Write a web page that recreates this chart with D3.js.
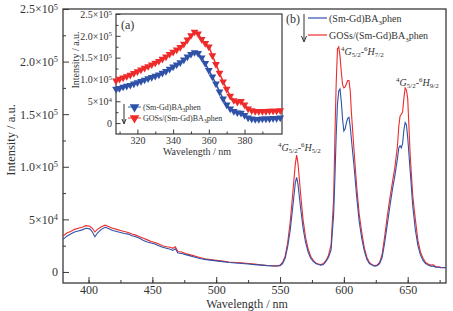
<!DOCTYPE html>
<html><head><meta charset="utf-8">
<script src="https://cdn.jsdelivr.net/npm/d3@7/dist/d3.min.js"></script>
<style>
body{margin:0;background:#fff;}
svg{display:block;font-family:"Liberation Serif","Times New Roman",serif;}
</style></head>
<body><svg id="c" width="453" height="311"></svg>
<script>
// ---------- DATA ----------
const wavelength = [
 380,383,386,389,392,395,398,401,403,405,
 407,410,413,416,419,422,425,428,431,434,
 437,440,443,446,449,452,455,458,461,464,
 466,468,470,473,476,479,482,485,488,491,
 494,497,500,505,510,515,520,525,530,535,
 540,545,548,550,552,554,556,558,560,562,
 563,564,566,568,570,572,574,576,578,580,
 582,584,586,588,590,592,593,594,595,596,
 597,598,599,600,601,602,603,604,605,606,
 608,610,612,614,616,618,620,622,624,626,
 628,630,632,634,636,638,640,642,643,644,
 645,646,647,648,649,650,652,654,656,658,
 660,662,664,666,668,670,672,674,676,678,
 680];
// (Sm-Gd)BA3phen, intensity in units of 1e3
const blueEmission = [
 31,34,36,38,39,40,41.5,41,38,33.5,
 37,40.5,42.5,41,39.5,38.5,37.5,36.5,36,34.5,
 33.5,32,30,28.5,27.5,26.5,25,23.5,22.5,21.5,
 20.5,22,18,17.5,16.5,15.5,14.5,13.5,12.5,12,
 11.5,11,10.5,9.8,9,8.5,8,7.5,7,6.5,
 6,5.7,5.6,6,8,13,24,40,62,85,
 90,84,62,42,28,19,13,10,8,7,
 6.5,7,10,14,21,55,90,130,160,172,
 174,162,145,134,136,142,146,147,138,125,
 100,72,48,32,20,12,8,6.5,5.5,6,
 8,14,28,45,62,78,92,108,118,120,
 118,122,135,142,140,128,95,62,40,25,
 16,11,8,6.5,5.5,5.5,4.5,4.5,4,4,
 4];
// GOSs/(Sm-Gd)BA3phen
const redEmission = [
 34,37,38.5,40.5,41.5,42.5,44,43.5,41.5,38,
 40.5,43,44.5,43,41.5,40.5,39.5,38.5,37.5,36,
 35,33.5,32,30.5,29,28,26.5,25,24,23.5,
 22.5,24,19.5,19,17.5,16.5,15.5,14.5,13.5,12.5,
 12,11.5,11,10.3,9.5,9,8.6,8,7.4,6.8,
 6.2,5.8,5.8,6.5,9,15,28,48,75,103,
 111,104,76,50,33,22,15,11,8.5,7.5,
 7,8,11,16,26,70,130,180,212,214,
 205,190,178,175,176,179,182,182,172,150,
 115,82,55,38,23,14,9,7,6,6.5,
 9,17,34,53,70,85,100,120,138,148,
 150,152,165,175,173,165,110,72,50,30,
 19,13,9,7.5,6.5,6.8,5,4.8,4.5,4.3,
 4.2];

const insetWavelength = [308,310,312,314,316,318,320,322,324,326,328,330,332,334,336,338,340,342,344,346,348,350,352,354,356,358,360,362,364,366,368,370,372,374,376,378,380,382,384,386,388,390,392,394,396,398,400];
const blueExcitation = [78,80,83,85,87,90,93,96,99,102,105,108,111,115,119,124,129,134,139,145,152,158,162,160,150,137,121,106,90,72,56,42,33,27,24,23,18,12,10,9,9,10,10,10,11,11,12];
const redExcitation = [97,101,104,107,110,114,118,122,126,130,134,138,142,147,152,158,163,168,174,181,191,201,209,205,192,183,175,155,135,115,95,78,62,52,48,50,42,33,29,27,27,27,27,28,28,28,29];

const mainYTicks = [0,50000,100000,150000,200000,250000];
const mainYLabels = [["0",""],["5×10","4"],["1.0×10","5"],["1.5×10","5"],["2.0×10","5"],["2.5×10","5"]];
const mainXTicks = [400,450,500,550,600,650];
const insetXTicks = [320,340,360,380];
const insetYTicks = [0,50000,100000,150000,200000,250000];

const seriesNames = ["(Sm-Gd)BA","GOSs/(Sm-Gd)BA"];
const blueColor = "#2f52a8", redColor = "#ee2b2b";
const axisColor = "#3a3a3a";

// ---------- MAIN ----------
const svg = d3.select("#c");
const M = {l:63, r:446, t:9, b:283};
const x = d3.scaleLinear().domain([380,680]).range([M.l,M.r]);
const y = d3.scaleLinear().domain([-10500,250000]).range([M.b,M.t]);

function supLabel(sel, parts, size){
  sel.text(null);
  sel.append("tspan").text(parts[0]);
  if(parts[1]) sel.append("tspan").attr("dy","-0.45em").attr("font-size",size*0.7).text(parts[1]);
}

const gx = svg.append("g").attr("transform",`translate(0,${M.b})`)
  .call(d3.axisBottom(x).tickValues(d3.range(400,680,25)).tickSize(-3).tickFormat(""));
const gx2 = svg.append("g").attr("transform",`translate(0,${M.b})`)
  .call(d3.axisBottom(x).tickValues(mainXTicks).tickSize(-6).tickPadding(2).tickFormat(d3.format("d")));
const gy = svg.append("g").attr("transform",`translate(${M.l},0)`)
  .call(d3.axisLeft(y).tickValues(d3.range(25000,250000,50000)).tickSize(-3).tickFormat(""));
const gy2 = svg.append("g").attr("transform",`translate(${M.l},0)`)
  .call(d3.axisLeft(y).tickValues(mainYTicks).tickSize(-6).tickPadding(5));
gy2.selectAll(".tick text").each(function(d,i){ supLabel(d3.select(this), mainYLabels[i], 12); });
[gx,gx2,gy,gy2].forEach(g=>{
  g.select(".domain").remove();
  g.selectAll("line").attr("stroke",axisColor).attr("stroke-width",1);
  g.selectAll("text").attr("font-family","Liberation Serif").attr("font-size",12).attr("fill","#333");
});
svg.append("rect").attr("x",M.l).attr("y",M.t).attr("width",M.r-M.l).attr("height",M.b-M.t)
  .attr("fill","none").attr("stroke",axisColor).attr("stroke-width",1.3);

const line = d3.line().x((d,i)=>x(wavelength[i])).y(d=>y(d*1000));
svg.append("path").datum(redEmission).attr("d",line).attr("fill","none").attr("stroke",redColor).attr("stroke-width",1.1);
svg.append("path").datum(blueEmission).attr("d",line).attr("fill","none").attr("stroke",blueColor).attr("stroke-width",1.1);

svg.append("text").attr("transform",`translate(15,140) rotate(-90)`).attr("text-anchor","middle")
  .attr("font-size",12.5).attr("fill","#333").text("Intensity / a.u.");
svg.append("text").attr("x",247).attr("y",308).attr("text-anchor","middle")
  .attr("font-size",12).attr("fill","#333").text("Wavelength / nm");

// annotations
function trans(xp, yp, lower){
  const t = svg.append("text").attr("x",xp).attr("y",yp).attr("font-size",10).attr("fill","#333");
  t.append("tspan").attr("font-size",7).attr("dy","-4").text("4");
  t.append("tspan").attr("font-style","italic").attr("dy","4").text("G");
  t.append("tspan").attr("font-size",7).attr("dy","2").text("5/2");
  t.append("tspan").attr("dy","-2").text("-");
  t.append("tspan").attr("font-size",7).attr("dy","-4").text("6");
  t.append("tspan").attr("font-style","italic").attr("dy","4").text("H");
  t.append("tspan").attr("font-size",7).attr("dy","2").text(lower);
}
trans(278,151,"5/2");
trans(341,55,"7/2");
trans(396,86,"9/2");

// legend (b)
svg.append("text").attr("x",286).attr("y",23).attr("font-size",12).attr("fill","#333").text("(b)");
svg.append("line").attr("x1",304).attr("y1",14).attr("x2",304).attr("y2",41).attr("stroke","#333").attr("stroke-width",1);
svg.append("path").attr("d","M301.5,36 L304,42 L306.5,36").attr("fill","none").attr("stroke","#333").attr("stroke-width",1);
[[blueColor,18],[redColor,35]].forEach((c,i)=>{
  svg.append("line").attr("x1",308).attr("x2",327).attr("y1",c[1]).attr("y2",c[1]).attr("stroke",c[0]).attr("stroke-width",1.2);
  const t = svg.append("text").attr("x",329).attr("y",c[1]+4).attr("font-size",10).attr("fill","#333");
  t.append("tspan").text(seriesNames[i]);
  t.append("tspan").attr("font-size",7).attr("dy",2.5).text("3");
  t.append("tspan").attr("dy",-2.5).text("phen");
});

// ---------- INSET ----------
const I = {l:116, r:282, t:14, b:134};
const xi = d3.scaleLinear().domain([308,401]).range([I.l,I.r]);
const yi = d3.scaleLinear().domain([-25000,250000]).range([I.b,I.t]);
svg.append("rect").attr("x",I.l).attr("y",I.t).attr("width",I.r-I.l).attr("height",I.b-I.t)
  .attr("fill","#fff").attr("stroke",axisColor).attr("stroke-width",1.2);
const ix1 = svg.append("g").attr("transform",`translate(0,${I.b})`)
  .call(d3.axisBottom(xi).tickValues([310,330,350,370,390]).tickSize(-2.5).tickFormat(""));
const ix2 = svg.append("g").attr("transform",`translate(0,${I.b})`)
  .call(d3.axisBottom(xi).tickValues(insetXTicks).tickSize(-4.5).tickPadding(3).tickFormat(d3.format("d")));
const iy1 = svg.append("g").attr("transform",`translate(${I.l},0)`)
  .call(d3.axisLeft(yi).tickValues(d3.range(25000,250000,50000)).tickSize(-2.5).tickFormat(""));
const iy2 = svg.append("g").attr("transform",`translate(${I.l},0)`)
  .call(d3.axisLeft(yi).tickValues(insetYTicks).tickSize(-4.5).tickPadding(4));
iy2.selectAll(".tick text").each(function(d,i){ supLabel(d3.select(this), mainYLabels[i], 10); });
[ix1,ix2,iy1,iy2].forEach(g=>{
  g.select(".domain").remove();
  g.selectAll("line").attr("stroke",axisColor).attr("stroke-width",1);
  g.selectAll("text").attr("font-family","Liberation Serif").attr("font-size",10).attr("fill","#333");
});
const tri = d3.symbol().type(d3.symbolTriangle).size(26);
const iline = d3.line().x((d,i)=>xi(insetWavelength[i])).y(d=>yi(d*1000));
[[redExcitation,redColor],[blueExcitation,blueColor]].forEach(s=>{
  svg.append("path").datum(s[0]).attr("d",iline).attr("fill","none").attr("stroke",s[1]).attr("stroke-width",1.5);
  svg.append("g").selectAll("path").data(s[0]).join("path")
    .attr("d",tri).attr("fill",s[1])
    .attr("transform",(d,i)=>`translate(${xi(insetWavelength[i])},${yi(d*1000)}) rotate(180)`);
});
svg.append("text").attr("transform",`translate(79,60) rotate(-90)`).attr("text-anchor","middle")
  .attr("font-size",10).attr("fill","#333").text("Intensity / a.u.");
svg.append("text").attr("x",197).attr("y",155).attr("text-anchor","middle")
  .attr("font-size",10).attr("fill","#333").text("Wavelength / nm");
svg.append("text").attr("x",121).attr("y",29).attr("font-size",12).attr("fill","#333").text("(a)");
// inset legend
svg.append("line").attr("x1",124).attr("y1",104).attr("x2",124).attr("y2",123).attr("stroke","#333").attr("stroke-width",1);
svg.append("path").attr("d","M122,119 L124,124 L126,119").attr("fill","none").attr("stroke","#333").attr("stroke-width",1);
[[blueColor,"#8fb8e8",107],[redColor,"#f59a9a",118]].forEach((c,i)=>{
  svg.append("line").attr("x1",128).attr("x2",141).attr("y1",c[2]).attr("y2",c[2]).attr("stroke",c[1]).attr("stroke-width",2);
  svg.append("path").attr("d",d3.symbol().type(d3.symbolTriangle).size(40)).attr("fill",c[0])
    .attr("transform",`translate(134.5,${c[2]}) rotate(180)`);
  const t = svg.append("text").attr("x",143).attr("y",c[2]+3).attr("font-size",8).attr("fill","#333");
  t.append("tspan").text(seriesNames[i]);
  t.append("tspan").attr("font-size",5.5).attr("dy",2).text("3");
  t.append("tspan").attr("dy",-2).text("phen");
});
</script></body></html>
